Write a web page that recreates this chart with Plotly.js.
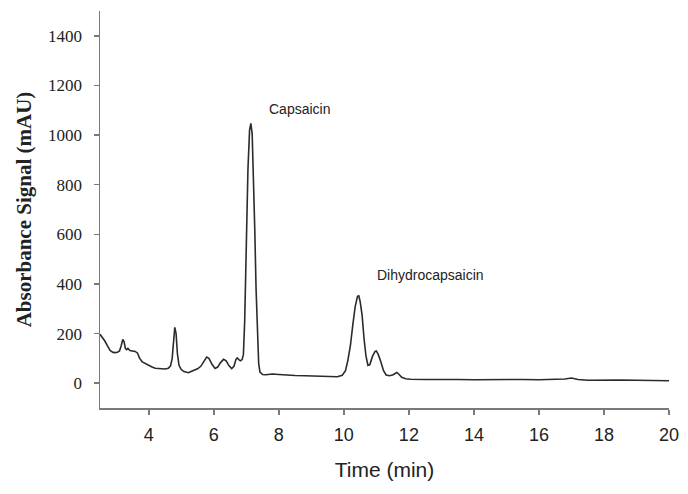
<!DOCTYPE html>
<html>
<head>
<meta charset="utf-8">
<script src="https://cdn.plot.ly/plotly-3.0.1.min.js"></script>
<style>html,body{margin:0;padding:0;background:#fff;}#chart{width:688px;height:494px;}</style>
</head>
<body>
<div id="chart"></div>
<script>
const timeMin = [2.5,2.58,2.65,2.73,2.81,2.9,2.98,3.05,3.1,3.15,3.2,3.24,3.28,3.32,3.36,3.42,3.5,3.58,3.65,3.72,3.8,3.9,4.0,4.1,4.2,4.3,4.4,4.5,4.6,4.67,4.72,4.76,4.8,4.84,4.88,4.93,5.0,5.08,5.16,5.22,5.3,5.4,5.5,5.6,5.7,5.78,5.85,5.95,6.04,6.12,6.2,6.3,6.38,6.47,6.55,6.62,6.68,6.72,6.77,6.82,6.87,6.91,6.95,7.0,7.05,7.1,7.14,7.18,7.22,7.26,7.3,7.34,7.38,7.42,7.5,7.6,7.8,8.0,8.2,8.5,8.8,9.0,9.3,9.6,9.8,9.95,10.05,10.12,10.2,10.28,10.35,10.42,10.46,10.5,10.56,10.62,10.68,10.74,10.8,10.88,10.96,11.0,11.06,11.14,11.22,11.3,11.4,11.5,11.58,11.63,11.7,11.78,11.9,12.05,12.5,13.0,13.5,14.0,14.5,15.0,15.5,16.0,16.5,16.8,17.0,17.2,17.5,18.0,18.5,19.0,19.5,20.0];
const signal = [197,185,170,150,132,124,123,126,130,150,176,168,140,135,140,132,130,128,122,100,86,78,71,65,60,58,57,57,60,70,100,175,225,200,120,72,55,47,44,42,47,52,58,68,92,105,100,75,59,65,82,96,90,70,59,68,95,102,95,90,95,115,250,560,860,1020,1047,1005,850,620,380,180,80,45,35,34,37,35,33,31,30,29,27,25,26,32,50,90,150,240,310,350,352,330,275,180,110,72,75,108,128,130,115,85,50,33,30,33,40,43,35,24,18,16,15,16,15,14,15,14,15,14,14,17,21,15,12,14,13,12,12,10];
const peakNames = ["Capsaicin","Dihydrocapsaicin"];
const peakLabelTime = [7.63,10.96];
const peakLabelSignal = [1107,437];
const yTicks = [0,200,400,600,800,1000,1200,1400];

const axisCol = '#7a7a7a';
const data = [{
  x: timeMin, y: signal, type: 'scatter', mode: 'lines',
  line: {color: '#2b2b2b', width: 1.6}, hoverinfo: 'skip'
}];
const layout = {
  width: 688, height: 494,
  margin: {l: 100, r: 19, t: 11, b: 86},
  paper_bgcolor: '#fff', plot_bgcolor: '#fff',
  showlegend: false,
  xaxis: {
    range: [2.5, 20], dtick: 2, tick0: 0,
    showgrid: false, zeroline: false,
    showline: true, linecolor: axisCol, linewidth: 1.5,
    ticks: 'outside', ticklen: 5, tickwidth: 1.5, tickcolor: axisCol,
    ticklabelstandoff: 5,
    tickfont: {family: 'Liberation Sans, Arial, sans-serif', size: 18, color: '#222'},
    title: {text: 'Time (min)', font: {family: 'Liberation Sans, Arial, sans-serif', size: 21, color: '#222'}, standoff: 18},
    automargin: false
  },
  yaxis: {
    range: [-100, 1500], tickvals: yTicks,
    showgrid: false, zeroline: false,
    showline: true, linecolor: axisCol, linewidth: 1.5,
    ticks: 'outside', ticklen: 5, tickwidth: 1.5, tickcolor: axisCol,
    ticklabelstandoff: 8,
    tickfont: {family: 'Liberation Serif, Times New Roman, serif', size: 17, color: '#222'},
    title: {text: '<b>Absorbance Signal (mAU)</b>', font: {family: 'Liberation Serif, Times New Roman, serif', size: 21, color: '#222'}, standoff: 10},
    automargin: false
  },
  annotations: peakNames.map((n, i) => ({
    x: peakLabelTime[i], y: peakLabelSignal[i], xref: 'x', yref: 'y',
    text: n, showarrow: false, xanchor: 'left', yanchor: 'middle',
    font: {family: 'Liberation Sans, Arial, sans-serif', size: 14, color: '#222'}
  }))
};
Plotly.newPlot('chart', data, layout, {displayModeBar: false, staticPlot: true});
</script>
</body>
</html>
